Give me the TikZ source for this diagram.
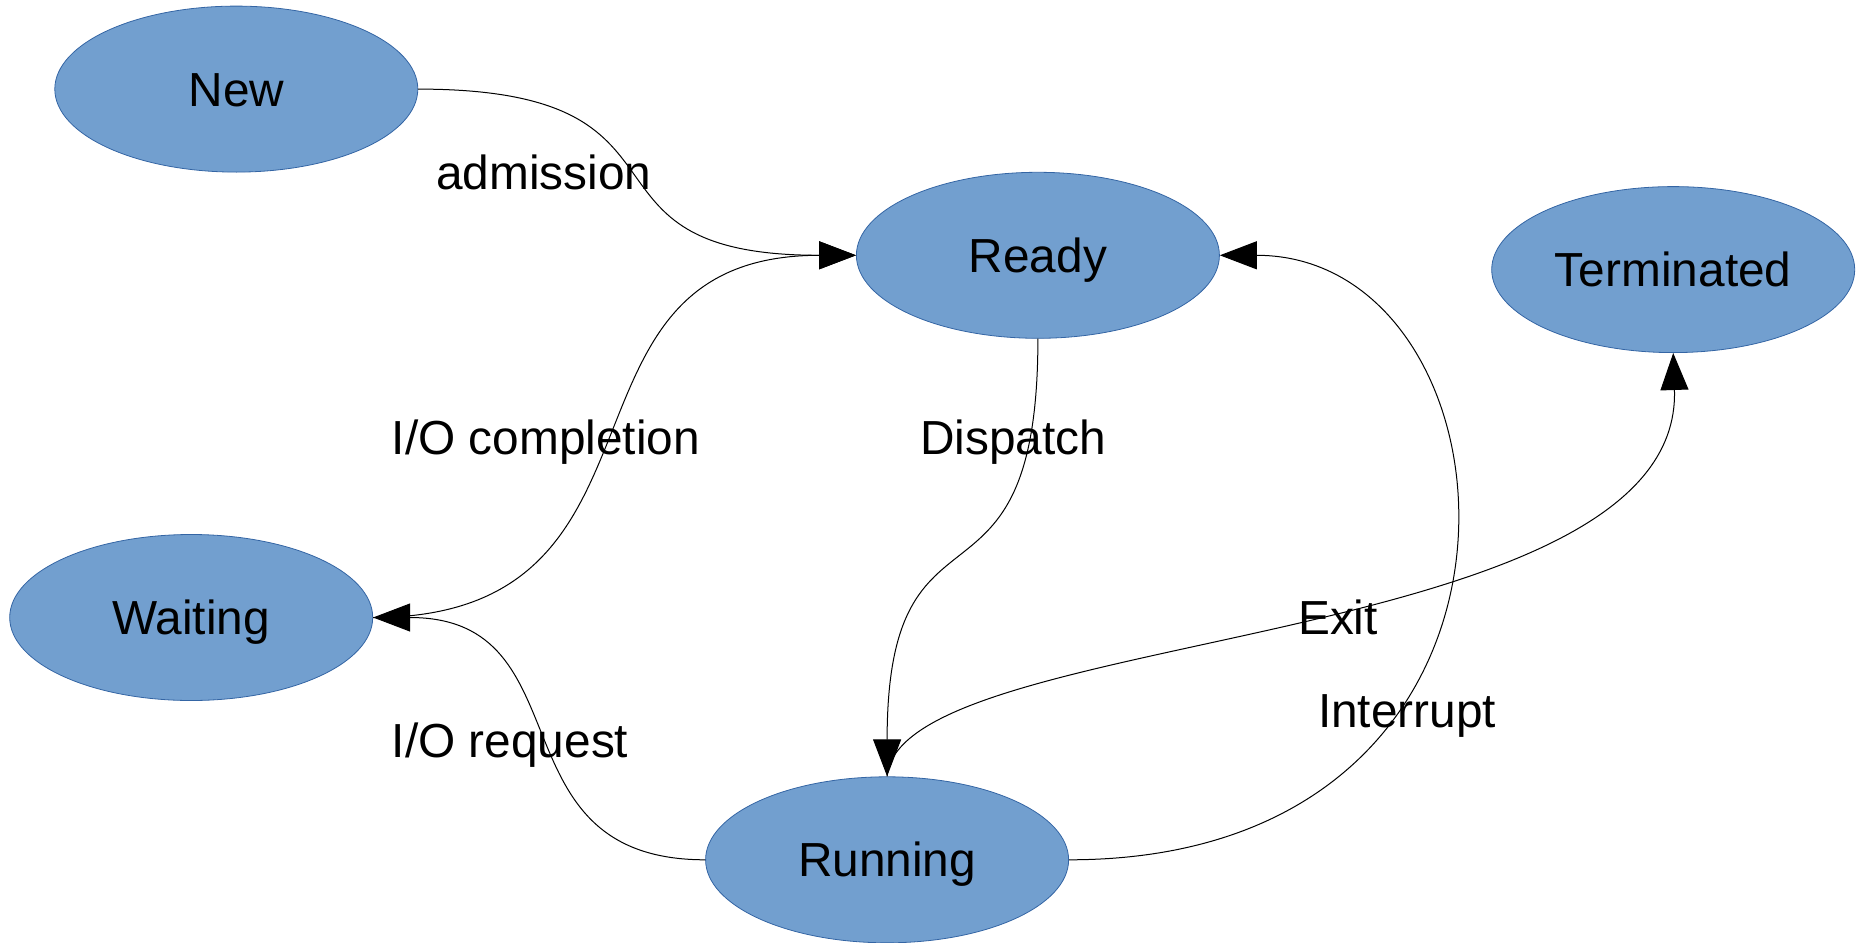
\documentclass[tikz,border=0pt]{standalone}
\usepackage{fontspec}
\setmainfont{Liberation Sans}
\usetikzlibrary{arrows.meta,shapes.geometric}
\definecolor{statefill}{HTML}{729FCF}
\definecolor{stateline}{HTML}{3465A4}
\begin{document}
\begin{tikzpicture}[x=1pt,y=-1pt,
  every node/.style={font=\fontsize{47.8}{56}\selectfont, text height=34.2pt, text depth=0pt, inner sep=0pt},
  state/.style={ellipse, fill=statefill, draw=stateline, line width=0.8pt,
    minimum width=363pt, minimum height=166pt},
  trans/.style={draw=black, line width=1pt, -{Triangle[length=37pt,width=28pt]}},
  lbl/.style={}]
\useasboundingbox (0,0) rectangle (1862,942);

% states
\node[state] (new)  at (236.3,89.1)   {New};
\node[state] (ready) at (1037.9,255.3) {Ready};
\node[state] (term) at (1673.2,269.6) {Terminated};
\node[state] (wait) at (191.2,617.5)  {Waiting};
\node[state] (run)  at (887.1,859.8)  {Running};

% transitions
\draw[trans] (new.east) .. controls +(300,0) and +(-300,0) .. (ready.west);
\draw[trans] (wait.east) .. controls +(320,0) and +(-320,0) .. (ready.west);
\draw[trans] (ready.south) .. controls +(0,300) and +(0,-300) .. (run.north);
\draw[trans] (run.east) .. controls +(510,0) and +(310,0) .. (ready.east);
\draw[trans] (run.north) .. controls +(12,-150) and +(10,300) .. (term.south);
\draw[trans] (run.west) .. controls +(-215,0) and +(215,0) .. (wait.east);

% transition labels
\node[lbl] (ladm) at (544,172)  {admission};
\node[lbl] (lioc) at (546,437)  {I/O completion};
\node[lbl] (ldis) at (1013,437) {Dispatch};
\node[lbl] (lexit) at (1338,617.5) {Exit};
\node[lbl] (lint) at (1407,710) {Interrupt};
\node[lbl] (lior) at (510,740)  {I/O request};
\end{tikzpicture}
\end{document}
